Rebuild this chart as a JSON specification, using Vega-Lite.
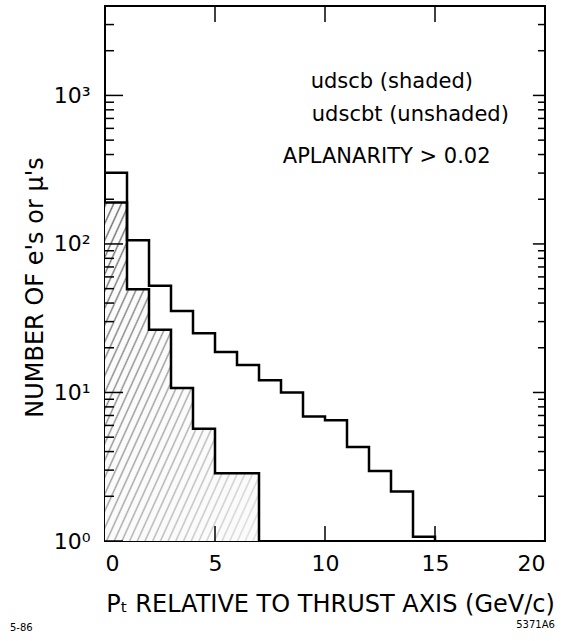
{
  "$schema": "https://vega.github.io/schema/vega-lite/v6.json",
  "width": 440,
  "height": 535,
  "autosize": {"type": "none"},
  "padding": {"left": 105, "top": 6, "right": 20, "bottom": 100},
  "background": "white",
  "config": {
    "view": {"stroke": "black", "strokeWidth": 2},
    "font": "DejaVu Sans",
    "axis": {
      "domain": false,
      "grid": false,
      "ticks": false,
      "labelColor": "black",
      "titleColor": "black",
      "labelFont": "DejaVu Sans",
      "titleFont": "DejaVu Sans",
      "titleFontWeight": "normal"
    }
  },
  "datasets": {
    "hist": [
      {"series": "udscb", "pt": 0, "count": 190},
      {"series": "udscb", "pt": 1, "count": 49.5},
      {"series": "udscb", "pt": 2, "count": 26.4},
      {"series": "udscb", "pt": 3, "count": 10.7},
      {"series": "udscb", "pt": 4, "count": 5.7},
      {"series": "udscb", "pt": 5, "count": 2.86},
      {"series": "udscb", "pt": 6, "count": 2.86},
      {"series": "udscb", "pt": 7, "count": 1},
      {"series": "udscbt", "pt": 0, "count": 301},
      {"series": "udscbt", "pt": 1, "count": 106},
      {"series": "udscbt", "pt": 2, "count": 52.4},
      {"series": "udscbt", "pt": 3, "count": 35.4},
      {"series": "udscbt", "pt": 4, "count": 25.0},
      {"series": "udscbt", "pt": 5, "count": 18.7},
      {"series": "udscbt", "pt": 6, "count": 15.3},
      {"series": "udscbt", "pt": 7, "count": 12.1},
      {"series": "udscbt", "pt": 8, "count": 10.0},
      {"series": "udscbt", "pt": 9, "count": 6.9},
      {"series": "udscbt", "pt": 10, "count": 6.5},
      {"series": "udscbt", "pt": 11, "count": 4.3},
      {"series": "udscbt", "pt": 12, "count": 2.96},
      {"series": "udscbt", "pt": 13, "count": 2.15},
      {"series": "udscbt", "pt": 14, "count": 1.07},
      {"series": "udscbt", "pt": 15, "count": 1}
    ],
    "ymajor": [{"v": 1}, {"v": 10}, {"v": 100}, {"v": 1000}],
    "yminor": [
      {"v": 2}, {"v": 3}, {"v": 4}, {"v": 5}, {"v": 6}, {"v": 7}, {"v": 8}, {"v": 9},
      {"v": 20}, {"v": 30}, {"v": 40}, {"v": 50}, {"v": 60}, {"v": 70}, {"v": 80}, {"v": 90},
      {"v": 200}, {"v": 300}, {"v": 400}, {"v": 500}, {"v": 600}, {"v": 700}, {"v": 800}, {"v": 900},
      {"v": 2000}, {"v": 3000}
    ],
    "xticks": [{"v": 5}, {"v": 10}, {"v": 15}],
    "notes": [
      {"label": "udscb  (shaded)", "px": 9.35, "py": 1239},
      {"label": "udscbt (unshaded)", "px": 9.4, "py": 739},
      {"label": "APLANARITY > 0.02", "px": 8.08, "py": 387}
    ],
    "corners": [
      {"label": "5-86", "px": -4.32, "py": 0.26, "side": "left"},
      {"label": "5371A6", "px": 20.45, "py": 0.27, "side": "right"}
    ]
  },
  "layer": [
    {
      "data": {"name": "hist"},
      "transform": [{"filter": "datum.series == 'udscb'"}],
      "mark": {
        "type": "area",
        "interpolate": "step-after",
        "fill": {
          "gradient": "linear", "x1": 0, "y1": 0, "x2": 1, "y2": 1,
          "stops": [
            {"offset": 0, "color": "#fbfbfb"}, {"offset": 0.005, "color": "#6a6a6a"}, {"offset": 0.01, "color": "#fbfbfb"},
            {"offset": 0.025, "color": "#fbfbfb"}, {"offset": 0.03, "color": "#6d6d6d"}, {"offset": 0.035, "color": "#fbfbfb"},
            {"offset": 0.05, "color": "#fbfbfb"}, {"offset": 0.055, "color": "#707070"}, {"offset": 0.06, "color": "#fbfbfb"},
            {"offset": 0.075, "color": "#fbfbfb"}, {"offset": 0.08, "color": "#737373"}, {"offset": 0.085, "color": "#fbfbfb"},
            {"offset": 0.1, "color": "#fbfbfb"}, {"offset": 0.105, "color": "#767676"}, {"offset": 0.11, "color": "#fbfbfb"},
            {"offset": 0.125, "color": "#fbfbfb"}, {"offset": 0.13, "color": "#797979"}, {"offset": 0.135, "color": "#fbfbfb"},
            {"offset": 0.15, "color": "#fbfbfb"}, {"offset": 0.155, "color": "#7c7c7c"}, {"offset": 0.16, "color": "#fbfbfb"},
            {"offset": 0.175, "color": "#fbfbfb"}, {"offset": 0.18, "color": "#7f7f7f"}, {"offset": 0.185, "color": "#fbfbfb"},
            {"offset": 0.2, "color": "#fbfbfb"}, {"offset": 0.205, "color": "#828282"}, {"offset": 0.21, "color": "#fbfbfb"},
            {"offset": 0.225, "color": "#fbfbfb"}, {"offset": 0.23, "color": "#858585"}, {"offset": 0.235, "color": "#fbfbfb"},
            {"offset": 0.25, "color": "#fbfbfb"}, {"offset": 0.255, "color": "#888888"}, {"offset": 0.26, "color": "#fbfbfb"},
            {"offset": 0.275, "color": "#fbfbfb"}, {"offset": 0.28, "color": "#8b8b8b"}, {"offset": 0.285, "color": "#fbfbfb"},
            {"offset": 0.3, "color": "#fbfbfb"}, {"offset": 0.305, "color": "#8e8e8e"}, {"offset": 0.31, "color": "#fbfbfb"},
            {"offset": 0.325, "color": "#fbfbfb"}, {"offset": 0.33, "color": "#919191"}, {"offset": 0.335, "color": "#fbfbfb"},
            {"offset": 0.35, "color": "#fbfbfb"}, {"offset": 0.355, "color": "#949494"}, {"offset": 0.36, "color": "#fbfbfb"},
            {"offset": 0.375, "color": "#fbfbfb"}, {"offset": 0.38, "color": "#979797"}, {"offset": 0.385, "color": "#fbfbfb"},
            {"offset": 0.4, "color": "#fbfbfb"}, {"offset": 0.405, "color": "#9a9a9a"}, {"offset": 0.41, "color": "#fbfbfb"},
            {"offset": 0.425, "color": "#fbfbfb"}, {"offset": 0.43, "color": "#9d9d9d"}, {"offset": 0.435, "color": "#fbfbfb"},
            {"offset": 0.45, "color": "#fbfbfb"}, {"offset": 0.455, "color": "#a0a0a0"}, {"offset": 0.46, "color": "#fbfbfb"},
            {"offset": 0.475, "color": "#fbfbfb"}, {"offset": 0.48, "color": "#a3a3a3"}, {"offset": 0.485, "color": "#fbfbfb"},
            {"offset": 0.5, "color": "#fbfbfb"}, {"offset": 0.505, "color": "#a6a6a6"}, {"offset": 0.51, "color": "#fbfbfb"},
            {"offset": 0.525, "color": "#fbfbfb"}, {"offset": 0.53, "color": "#a9a9a9"}, {"offset": 0.535, "color": "#fbfbfb"},
            {"offset": 0.55, "color": "#fbfbfb"}, {"offset": 0.555, "color": "#acacac"}, {"offset": 0.56, "color": "#fbfbfb"},
            {"offset": 0.575, "color": "#fbfbfb"}, {"offset": 0.58, "color": "#afafaf"}, {"offset": 0.585, "color": "#fbfbfb"},
            {"offset": 0.6, "color": "#fbfbfb"}, {"offset": 0.605, "color": "#b2b2b2"}, {"offset": 0.61, "color": "#fbfbfb"},
            {"offset": 0.625, "color": "#fbfbfb"}, {"offset": 0.63, "color": "#b5b5b5"}, {"offset": 0.635, "color": "#fbfbfb"},
            {"offset": 0.65, "color": "#fbfbfb"}, {"offset": 0.655, "color": "#b8b8b8"}, {"offset": 0.66, "color": "#fbfbfb"},
            {"offset": 0.675, "color": "#fbfbfb"}, {"offset": 0.68, "color": "#bbbbbb"}, {"offset": 0.685, "color": "#fbfbfb"},
            {"offset": 0.7, "color": "#fbfbfb"}, {"offset": 0.705, "color": "#bebebe"}, {"offset": 0.71, "color": "#fbfbfb"},
            {"offset": 0.725, "color": "#fbfbfb"}, {"offset": 0.73, "color": "#c1c1c1"}, {"offset": 0.735, "color": "#fbfbfb"},
            {"offset": 0.75, "color": "#fbfbfb"}, {"offset": 0.755, "color": "#c4c4c4"}, {"offset": 0.76, "color": "#fbfbfb"},
            {"offset": 0.775, "color": "#fbfbfb"}, {"offset": 0.78, "color": "#c7c7c7"}, {"offset": 0.785, "color": "#fbfbfb"},
            {"offset": 0.8, "color": "#fbfbfb"}, {"offset": 0.805, "color": "#cacaca"}, {"offset": 0.81, "color": "#fbfbfb"},
            {"offset": 0.825, "color": "#fbfbfb"}, {"offset": 0.83, "color": "#cdcdcd"}, {"offset": 0.835, "color": "#fbfbfb"},
            {"offset": 0.85, "color": "#fbfbfb"}, {"offset": 0.855, "color": "#d0d0d0"}, {"offset": 0.86, "color": "#fbfbfb"},
            {"offset": 0.875, "color": "#fbfbfb"}, {"offset": 0.88, "color": "#d3d3d3"}, {"offset": 0.885, "color": "#fbfbfb"},
            {"offset": 0.9, "color": "#fbfbfb"}, {"offset": 0.905, "color": "#d6d6d6"}, {"offset": 0.91, "color": "#fbfbfb"},
            {"offset": 0.925, "color": "#fbfbfb"}, {"offset": 0.93, "color": "#d9d9d9"}, {"offset": 0.935, "color": "#fbfbfb"},
            {"offset": 0.95, "color": "#fbfbfb"}, {"offset": 0.955, "color": "#dcdcdc"}, {"offset": 0.96, "color": "#fbfbfb"},
            {"offset": 0.975, "color": "#fbfbfb"}, {"offset": 0.98, "color": "#dfdfdf"}, {"offset": 0.985, "color": "#fbfbfb"},
            {"offset": 1, "color": "#fbfbfb"}
          ]
        }
      },
      "encoding": {
        "x": {
          "field": "pt", "type": "quantitative",
          "scale": {"domain": [0, 20], "nice": false, "zero": false},
          "axis": {
            "orient": "bottom",
            "values": [0, 5, 10, 15, 20],
            "labelPadding": 12,
            "labelFontSize": 22,
            "title": "Pₜ  RELATIVE TO THRUST AXIS   (GeV/c)",
            "titleFontSize": 24,
            "titlePadding": 18,
            "titleX": 225
          }
        },
        "y": {
          "field": "count", "type": "quantitative",
          "scale": {"type": "log", "domain": [1, 4000], "nice": false},
          "axis": {
            "orient": "left",
            "values": [1, 10, 100, 1000],
            "labelExpr": "datum.value == 1 ? '10⁰' : datum.value == 10 ? '10¹' : datum.value == 100 ? '10²' : '10³'",
            "labelFontSize": 22,
            "labelPadding": 15,
            "labelBaseline": "middle",
            "title": "NUMBER OF e's or μ's",
            "titleFontSize": 24,
            "titlePadding": 6,
            "titleY": 281
          }
        },
        "y2": {"datum": 1}
      }
    },
    {
      "data": {"name": "hist"},
      "transform": [{"filter": "datum.series == 'udscb'"}],
      "mark": {"type": "line", "interpolate": "step-after", "color": "black", "strokeWidth": 2.5},
      "encoding": {
        "x": {"field": "pt", "type": "quantitative", "axis": null},
        "y": {"field": "count", "type": "quantitative", "axis": null}
      }
    },
    {
      "data": {"name": "hist"},
      "transform": [{"filter": "datum.series == 'udscbt'"}],
      "mark": {"type": "line", "interpolate": "step-after", "color": "black", "strokeWidth": 2.5},
      "encoding": {
        "x": {"field": "pt", "type": "quantitative", "axis": null},
        "y": {"field": "count", "type": "quantitative", "axis": null}
      }
    },
    {
      "data": {"name": "ymajor"},
      "mark": {"type": "rule", "color": "black", "strokeWidth": 1.5},
      "encoding": {
        "y": {"field": "v", "type": "quantitative", "axis": null},
        "x": {"datum": 0, "axis": null},
        "x2": {"datum": 0.82}
      }
    },
    {
      "data": {"name": "yminor"},
      "mark": {"type": "rule", "color": "black", "strokeWidth": 1.5},
      "encoding": {
        "y": {"field": "v", "type": "quantitative", "axis": null},
        "x": {"datum": 0, "axis": null},
        "x2": {"datum": 0.41}
      }
    },
    {
      "data": {"name": "ymajor"},
      "mark": {"type": "rule", "color": "black", "strokeWidth": 1.5},
      "encoding": {
        "y": {"field": "v", "type": "quantitative", "axis": null},
        "x": {"datum": 20, "axis": null},
        "x2": {"datum": 19.45}
      }
    },
    {
      "data": {"name": "yminor"},
      "mark": {"type": "rule", "color": "black", "strokeWidth": 1.5},
      "encoding": {
        "y": {"field": "v", "type": "quantitative", "axis": null},
        "x": {"datum": 20, "axis": null},
        "x2": {"datum": 19.68}
      }
    },
    {
      "data": {"name": "xticks"},
      "mark": {"type": "rule", "color": "black", "strokeWidth": 1.5},
      "encoding": {
        "x": {"field": "v", "type": "quantitative", "axis": null},
        "y": {"datum": 1, "axis": null},
        "y2": {"datum": 1.26}
      }
    },
    {
      "data": {"name": "xticks"},
      "mark": {"type": "rule", "color": "black", "strokeWidth": 1.5},
      "encoding": {
        "x": {"field": "v", "type": "quantitative", "axis": null},
        "y": {"datum": 4000, "axis": null},
        "y2": {"datum": 3120}
      }
    },
    {
      "data": {"name": "notes"},
      "mark": {"type": "text", "align": "left", "baseline": "middle", "fontSize": 21, "color": "black"},
      "encoding": {
        "x": {"field": "px", "type": "quantitative", "axis": null},
        "y": {"field": "py", "type": "quantitative", "axis": null},
        "text": {"field": "label"}
      }
    },
    {
      "data": {"name": "corners"},
      "transform": [{"filter": "datum.side == 'left'"}],
      "mark": {"type": "text", "align": "left", "baseline": "middle", "fontSize": 10, "color": "black"},
      "encoding": {
        "x": {"field": "px", "type": "quantitative", "axis": null},
        "y": {"field": "py", "type": "quantitative", "axis": null},
        "text": {"field": "label"}
      }
    },
    {
      "data": {"name": "corners"},
      "transform": [{"filter": "datum.side == 'right'"}],
      "mark": {"type": "text", "align": "right", "baseline": "middle", "fontSize": 10, "color": "black"},
      "encoding": {
        "x": {"field": "px", "type": "quantitative", "axis": null},
        "y": {"field": "py", "type": "quantitative", "axis": null},
        "text": {"field": "label"}
      }
    }
  ],
  "resolve": {"axis": {"x": "independent", "y": "independent"}}
}
